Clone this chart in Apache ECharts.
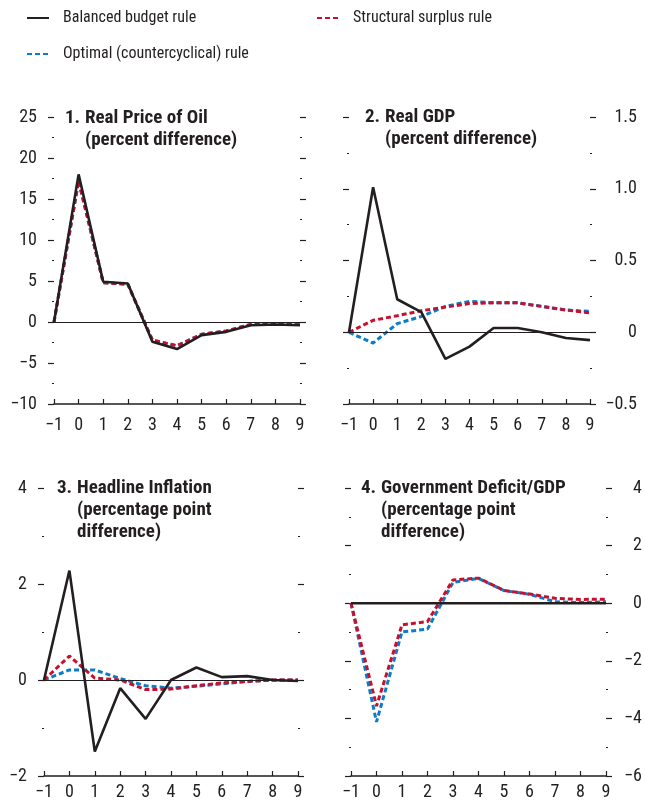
<!DOCTYPE html>
<html lang="en">
<head>
<meta charset="UTF-8">
<title>Fiscal rules and oil price shock</title>
<script src="https://cdn.jsdelivr.net/npm/echarts@6/dist/echarts.min.js"></script>
<style>html,body{margin:0;padding:0;background:#fff;}</style>
</head>
<body>
<div id="main" style="width:645px;height:805px;"></div>
<script type="text/javascript">
// years after the shock
const years = [-1, 0, 1, 2, 3, 4, 5, 6, 7, 8, 9];

// 1. real price of oil
const oilBalanced   = [0, 18.0, 4.9, 4.7, -2.4, -3.3, -1.6, -1.2, -0.4, -0.3, -0.4];
const oilStructural = [0, 17.2, 4.8, 4.6, -2.2, -2.9, -1.5, -1.1, -0.3, -0.2, -0.3];
const oilOptimal    = [0, 17.2, 4.8, 4.6, -2.2, -2.9, -1.5, -1.1, -0.3, -0.2, -0.3];

// 2. real GDP
const gdpBalanced   = [0, 1.01, 0.23, 0.14, -0.185, -0.10, 0.03, 0.03, 0.0, -0.04, -0.055];
const gdpStructural = [0, 0.083, 0.115, 0.15, 0.175, 0.20, 0.205, 0.205, 0.18, 0.155, 0.135];
const gdpOptimal    = [0, -0.075, 0.06, 0.11, 0.18, 0.215, 0.205, 0.205, 0.18, 0.155, 0.145];

// 3. headline inflation
const infBalanced   = [0, 2.28, -1.49, -0.17, -0.81, 0, 0.26, 0.06, 0.08, 0, -0.02];
const infStructural = [0, 0.5, 0.04, 0, -0.2, -0.19, -0.12, -0.06, -0.03, 0, 0];
const infOptimal    = [0, 0.21, 0.21, 0.03, -0.12, -0.17, -0.13, -0.08, -0.03, 0, 0];

// 4. government deficit / GDP
const defBalanced   = [0, 0, 0, 0, 0, 0, 0, 0, 0, 0, 0];
const defStructural = [0, -3.57, -0.75, -0.64, 0.81, 0.87, 0.44, 0.32, 0.17, 0.13, 0.14];
const defOptimal    = [0, -4.12, -1.0, -0.9, 0.72, 0.86, 0.44, 0.31, 0.05, 0.02, 0.05];

const FONT = '"Roboto Condensed", "DejaVu Sans Condensed", sans-serif';
const INK = '#231f20';
const RED = '#c8102e';
const BLUE = '#0a7cc8';

const names = ['Balanced budget rule', 'Structural surplus rule', 'Optimal (countercyclical) rule'];

// grid boxes of the four panels
const grids = [
    {left: 54, top: 117, width: 246, height: 287},
    {left: 349, top: 117, width: 241, height: 287},
    {left: 44, top: 488, width: 254, height: 288},
    {left: 351, top: 488, width: 257, height: 288}
];
// axis ranges [min, max, interval, decimals, label side]
const ranges = [
    [-10, 25, 5, 0, 'left'],
    [-0.5, 1.5, 0.5, 1, 'right'],
    [-2, 4, 2, 0, 'left'],
    [-6, 4, 2, 0, 'right']
];
const panelData = [
    [oilBalanced, oilStructural, oilOptimal],
    [gdpBalanced, gdpStructural, gdpOptimal],
    [infBalanced, infStructural, infOptimal],
    [defBalanced, defStructural, defOptimal]
];

function minus(s) { return String(s).replace('-', '\u2212'); }
function pairs(vals) { return years.map((x, i) => [x, vals[i]]); }

let xAxes = [], yAxes = [], series = [];
grids.forEach((g, i) => {
    xAxes.push({
        type: 'value', gridIndex: i, min: -1, max: 9, interval: 1,
        axisLine: {onZero: false, lineStyle: {color: INK, width: 1.5}},
        axisTick: {inside: true, length: 5, lineStyle: {color: INK, width: 1.2}},
        axisLabel: {color: INK, fontFamily: FONT, fontSize: 18, margin: i < 2 ? 12 : 7, formatter: v => minus(v)},
        splitLine: {show: false}
    });
    const r = ranges[i];
    ['left', 'right'].forEach(side => {
        const lab = side === r[4];
        yAxes.push({
            type: 'value', gridIndex: i, position: side, min: r[0], max: r[1], interval: r[2],
            axisLine: {show: false, onZero: false},
            axisTick: {show: true, length: 6, lineStyle: {color: INK, width: 1.2}},
            minorTick: {show: true, splitNumber: 2, length: 2, lineStyle: {color: INK, width: 1.2}},
            splitLine: {show: false},
            axisLabel: {
                show: lab, color: INK, fontFamily: FONT, fontSize: 18,
                margin: side === 'left' ? 17 : (i === 1 ? 47 : 36),
                align: 'right',
                formatter: v => minus(v === 0 ? '0' : v.toFixed(r[3]))
            }
        });
    });
    const d = panelData[i];
    series.push({
        name: names[2], type: 'line', xAxisIndex: i, yAxisIndex: i * 2, symbol: 'none',
        lineStyle: {color: BLUE, width: 3, type: [5, 3]}, itemStyle: {color: BLUE},
        data: pairs(d[2])
    });
    series.push({
        name: names[1], type: 'line', xAxisIndex: i, yAxisIndex: i * 2, symbol: 'none',
        lineStyle: {color: RED, width: 3, type: [5, 3]}, itemStyle: {color: RED},
        data: pairs(d[1])
    });
    series.push({
        name: names[0], type: 'line', xAxisIndex: i, yAxisIndex: i * 2, symbol: 'none',
        lineStyle: {color: INK, width: 2.6}, itemStyle: {color: INK}, z: 3,
        data: pairs(d[0]),
        markLine: i === 3 ? undefined : {
            silent: true, symbol: ['none', 'none'], label: {show: false},
            lineStyle: {color: INK, width: 1.2, type: 'solid'},
            data: [{yAxis: 0}]
        }
    });
});

const titleStyle = {color: INK, fontFamily: FONT, fontSize: 19, fontWeight: 'bold', lineHeight: 22};
function panelTitle(num, text, x, y) {
    return [
        {text: num, left: x, top: y, padding: 0, textStyle: titleStyle},
        {text: text, left: x + 20, top: y, padding: 0, textStyle: titleStyle}
    ];
}
const titles = [].concat(
    panelTitle('1.', 'Real Price of Oil\n(percent difference)', 65, 107),
    panelTitle('2.', 'Real GDP\n(percent difference)', 365, 106),
    panelTitle('3.', 'Headline Inflation\n(percentage point\ndifference)', 57, 477),
    panelTitle('4.', 'Government Deficit/GDP\n(percentage point\ndifference)', 361, 477)
);

const legendBase = {
    padding: 0, itemWidth: 22, itemHeight: 16, selectedMode: false,
    itemStyle: {opacity: 0},
    textStyle: {color: INK, fontFamily: FONT, fontSize: 16, padding: [0, 0, 0, 9]}
};

let options = {
    animation: false,
    backgroundColor: '#fff',
    title: titles,
    legend: [
        Object.assign({left: 26, top: 10, data: [names[0]]}, legendBase),
        Object.assign({left: 316, top: 10, data: [names[1]]}, legendBase),
        Object.assign({left: 26, top: 46, data: [names[2]]}, legendBase)
    ],
    grid: grids,
    xAxis: xAxes,
    yAxis: yAxes,
    series: series
};

let myChart = echarts.init(document.getElementById('main'));
myChart.setOption(options);
</script>
</body>
</html>
